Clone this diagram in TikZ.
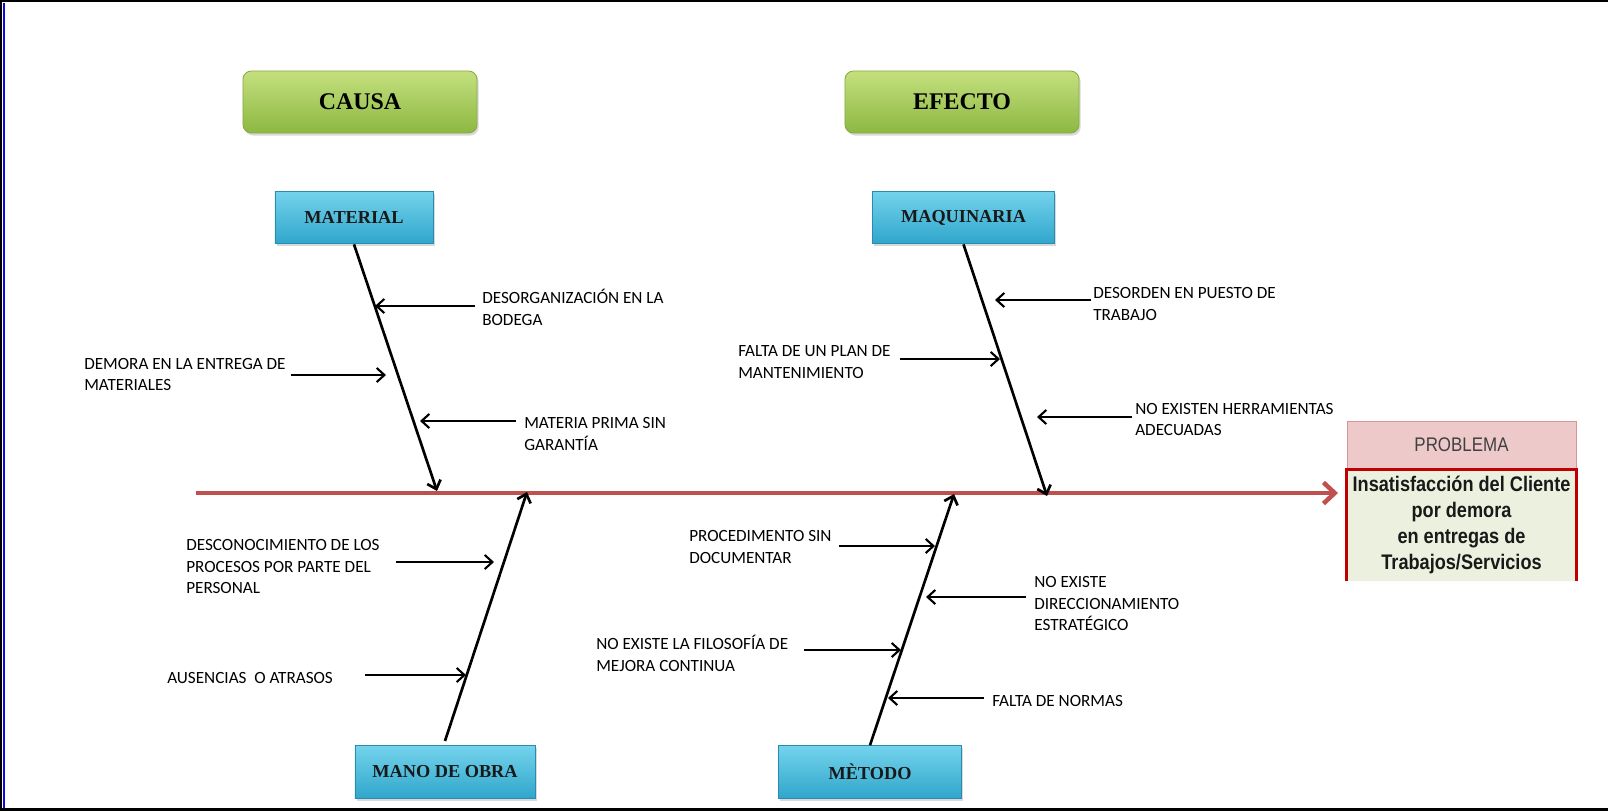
\documentclass[tikz,border=0pt]{standalone}
\usepackage{fontspec}
\setmainfont{Carlito}
\newfontfamily\boxfont{Liberation Serif}
\newfontfamily\narrowfont[FakeStretch=0.86]{Liberation Sans}
\usepackage{tikz}
\usetikzlibrary{arrows.meta,shadows}
\usepackage{xcolor}
\definecolor{spineRed}{HTML}{C0504D}
\definecolor{probRed}{HTML}{C00000}
\definecolor{probPink}{HTML}{EDC9C9}
\definecolor{probPinkEdge}{HTML}{D99594}
\definecolor{probGreen}{HTML}{EBF1DE}
\definecolor{greenTop}{HTML}{C4E07E}
\definecolor{greenBot}{HTML}{8DB842}
\definecolor{greenEdge}{HTML}{86AC45}
\definecolor{cyanTop}{HTML}{74D3EC}
\definecolor{cyanBot}{HTML}{2FA6CB}
\definecolor{cyanEdge}{HTML}{2A8BAE}
\definecolor{frameBlue}{HTML}{0A0AE6}

\begin{document}
\begin{tikzpicture}[
  x=0.025cm, y=-0.025cm,
  font=\fontsize{12.2}{15.3}\selectfont,
  >={Straight Barb[length=5.5pt,width=10pt]},
  headBox/.style={rounded corners=6pt, top color=greenTop, bottom color=greenBot,
    draw=greenEdge, line width=0.6pt, minimum width=5.85cm, minimum height=1.55cm,
    drop shadow={opacity=0.3, shadow xshift=1.2pt, shadow yshift=-1.8pt},
    font=\boxfont\bfseries\fontsize{17}{20}\selectfont},
  catBox/.style={top color=cyanTop, bottom color=cyanBot, draw=cyanEdge, line width=0.6pt,
    minimum height=1.32cm,
    drop shadow={opacity=0.3, shadow xshift=1.2pt, shadow yshift=-1.8pt},
    font=\boxfont\bfseries\fontsize{13}{15}\selectfont, text=black!90},
  causeText/.style={anchor=north west, inner sep=0pt, align=left},
  cause/.style={->, line width=1.5pt},
  bone/.style={->, line width=1.9pt},
  spine/.style={-{Straight Barb[length=8pt,width=15pt]}, line width=3.2pt, spineRed}
]
  \useasboundingbox (0,0) rectangle (1608,811);

  % frame lines
  \draw[line width=1.5pt] (0,1) -- (1608,1);
  \draw[line width=0.8pt] (1,0) -- (1,811);
  \draw[line width=1.5pt, frameBlue] (4,3) -- (4,808);
  \draw[line width=1.8pt] (0,809.5) -- (1608,809.5);

  % ----------------------------------------------------
  % Headers and category boxes
  % ----------------------------------------------------
  \node[headBox] (causa) at (360,102) {CAUSA};
  \node[headBox] (efecto) at (962,102) {EFECTO};

  \node[catBox, minimum width=3.95cm] (material) at (354,217.5) {MATERIAL};
  \node[catBox, minimum width=4.55cm] (maquinaria) at (963.5,217.5) {MAQUINARIA};
  \node[catBox, minimum width=4.5cm] (manoObra) at (445,772) {MANO DE OBRA};
  \node[catBox, minimum width=4.575cm] (metodo) at (870,772) {MÈTODO};

  % ----------------------------------------------------
  % Problem box
  % ----------------------------------------------------
  \node[fill=probPink, draw=probPinkEdge, line width=0.6pt, minimum width=5.725cm, minimum height=1.2cm,
    font=\narrowfont\fontsize{14}{16}\selectfont, text=black!75] (probTitle) at (1461.5,445) {PROBLEMA};
  \node[fill=probGreen, minimum width=5.725cm, minimum height=2.775cm, align=center,
    font=\narrowfont\bfseries\fontsize{15}{18.5}\selectfont, text=black!90] (probBody) at (1461.5,525)
    {Insatisfacción del Cliente\\por demora\\en entregas de\\Trabajos/Servicios};
  \draw[probRed, line width=1.9pt] (probBody.south west) -- (probBody.north west)
    -- (probBody.north east) -- (probBody.south east);

  % ----------------------------------------------------
  % Spine and bones
  % ----------------------------------------------------
  \coordinate (spineStart) at (196,493);
  \coordinate (spineEnd) at (1338,493);
  \coordinate (matTip) at (437,491);
  \coordinate (maqTip) at (1047,496);
  \coordinate (manoTip) at (527,492);
  \coordinate (metTip) at (954,494);

  \draw[spine] (spineStart) -- (spineEnd);
  \draw[bone] (material.south) -- (matTip);
  \draw[bone] (maquinaria.south) -- (maqTip);
  \draw[bone] ([yshift=3pt]manoObra.north) -- (manoTip);
  \draw[bone] (metodo.north) -- (metTip);

  % ----------------------------------------------------
  % Causes
  % ----------------------------------------------------
  \node[causeText] (tDesorg) at (482,289) {DESORGANIZACIÓN EN LA\\BODEGA};
  \node[causeText] (tDemora) at (84,358) {DEMORA EN LA ENTREGA DE\\MATERIALES};
  \node[causeText] (tMateria) at (524,417.5) {MATERIA PRIMA SIN\\GARANTÍA};
  \node[causeText] (tDesorden) at (1093,287.5) {DESORDEN EN PUESTO DE\\TRABAJO};
  \node[causeText] (tPlan) at (738,345.5) {FALTA DE UN PLAN DE\\MANTENIMIENTO};
  \node[causeText] (tHerram) at (1135,403) {NO EXISTEN HERRAMIENTAS\\ADECUADAS};
  \node[causeText] (tProcesos) at (186,539.5) {DESCONOCIMIENTO DE LOS\\PROCESOS POR PARTE DEL\\PERSONAL};
  \node[causeText] (tAusencias) at (167,672) {AUSENCIAS\ \ O ATRASOS};
  \node[causeText] (tProced) at (689,530.5) {PROCEDIMENTO SIN\\DOCUMENTAR};
  \node[causeText] (tDirecc) at (1034,576.5) {NO EXISTE\\DIRECCIONAMIENTO\\ESTRATÉGICO};
  \node[causeText] (tFilosofia) at (596,635) {NO EXISTE LA FILOSOFÍA DE\\MEJORA CONTINUA};
  \node[causeText] (tNormas) at (992,695.5) {FALTA DE NORMAS};

  \coordinate (hDesorg) at (375,306);
  \coordinate (hDemora) at (386,375);
  \coordinate (hMateria) at (420,421);
  \coordinate (hDesorden) at (995,300);
  \coordinate (hPlan) at (1000,359);
  \coordinate (hHerram) at (1037,417);
  \coordinate (hProcesos) at (494,562);
  \coordinate (hAusencias) at (466,675);
  \coordinate (hProced) at (935,546);
  \coordinate (hDirecc) at (926,597);
  \coordinate (hFilosofia) at (901,650);
  \coordinate (hNormas) at (888,698);

  % text on the right of a bone
  \foreach \txt/\tip/\gap in {tDesorg/hDesorg/5pt, tMateria/hMateria/5.7pt, tDesorden/hDesorden/1.4pt,
      tHerram/hHerram/2pt, tDirecc/hDirecc/5.7pt, tNormas/hNormas/5.7pt}
    \draw[cause, shorten <=\gap] (\tip -| \txt.west) -- (\tip);
  % text on the left of a bone
  \foreach \txt/\tip/\gap in {tDemora/hDemora/3.5pt, tPlan/hPlan/6.4pt, tProcesos/hProcesos/11.4pt,
      tAusencias/hAusencias/22.8pt, tProced/hProced/5pt, tFilosofia/hFilosofia/10.7pt}
    \draw[cause, shorten <=\gap] (\tip -| \txt.east) -- (\tip);

\end{tikzpicture}
\end{document}
